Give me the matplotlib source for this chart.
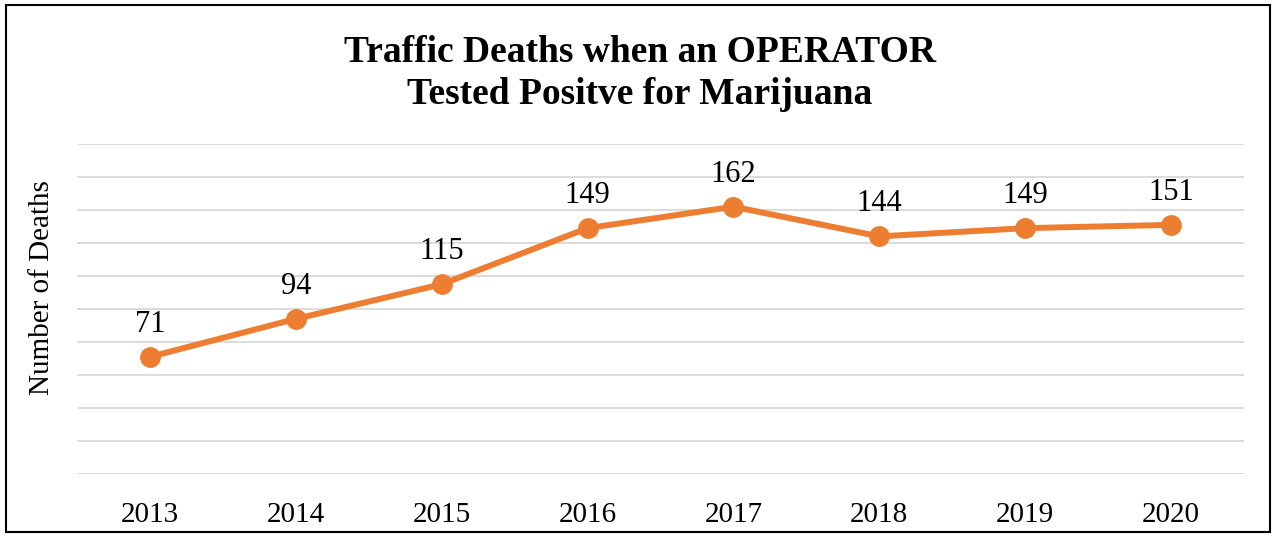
import matplotlib.pyplot as plt
from matplotlib.patches import Rectangle

# data
years = ['2013', '2014', '2015', '2016', '2017', '2018', '2019', '2020']
deaths = [71, 94, 115, 149, 162, 144, 149, 151]

plt.rcParams['font.family'] = ['Liberation Serif', 'DejaVu Serif']

W, H = 1275, 542
fig = plt.figure(figsize=(W / 100, H / 100), dpi=100)
# axes box in pixels: x 77..1244, y 144..474
ax = fig.add_axes([77 / W, (H - 474) / H, (1244 - 77) / W, (474 - 144) / H])

x = range(len(years))
ax.plot(x, deaths, color='#ED7D31', linewidth=4.3, marker='o', markersize=14,
        solid_capstyle='round', zorder=3)
for xi, v in zip(x, deaths):
    ax.annotate(str(v), (xi, v), xytext=(0, 18), textcoords='offset points',
                ha='center', va='baseline', fontsize=22)

ax.set_xlim(-0.5, len(years) - 0.5)
ax.set_ylim(0, 200)
ax.set_yticks(range(0, 201, 20))
ax.set_yticklabels([])
ax.set_xticks(list(x))
ax.set_xticklabels(years, fontsize=21)
ax.tick_params(axis='both', length=0)
ax.tick_params(axis='x', pad=20)
ax.grid(axis='y', color='#d9d9d9', linewidth=1.3)
ax.set_axisbelow(True)
for s in ax.spines.values():
    s.set_visible(False)

fig.text(42 / W, 1 - 288 / H, 'Number of Deaths', rotation=90, ha='center',
         va='center', fontsize=21)
fig.text(640 / W, 1 - 62 / H, 'Traffic Deaths when an OPERATOR', ha='center',
         va='baseline', fontsize=27, fontweight='bold')
fig.text(640 / W, 1 - 104 / H, 'Tested Positve for Marijuana', ha='center',
         va='baseline', fontsize=27, fontweight='bold')

# outer frame
fig.patches.append(Rectangle((6 / W, (H - 532) / H), (1270 - 6) / W, (532 - 5) / H,
                             transform=fig.transFigure, fill=False,
                             edgecolor='black', linewidth=1.5))

fig.savefig('out.png', dpi=100)
